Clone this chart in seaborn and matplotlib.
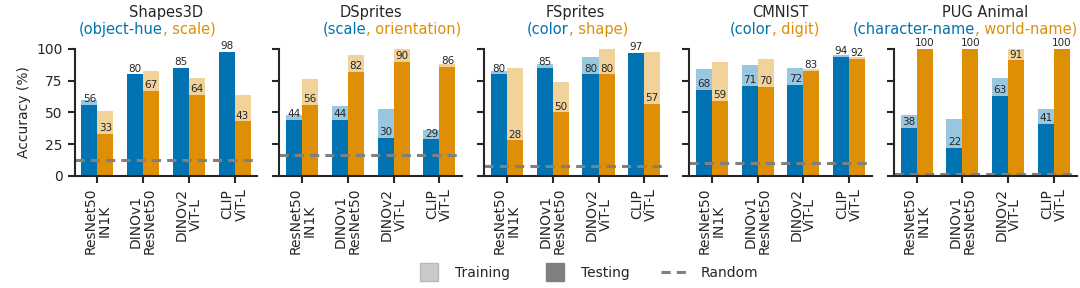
import numpy as np
import pandas as pd
import seaborn as sns
import matplotlib.pyplot as plt
from matplotlib.lines import Line2D

# models on the x axis
models = ["ResNet50\nIN1K", "DINOv1\nResNet50", "DINOv2\nViT-L", "CLIP\nViT-L"]

# dataset names and the two attributes (blue, orange)
datasets = ["Shapes3D", "DSprites", "FSprites", "CMNIST", "PUG Animal"]
attr_a = ["(object-hue", "(scale", "(color", "(color", "(character-name"]
attr_b = [", scale)", ", orientation)", ", shape)", ", digit)", ", world-name)"]

# training / testing accuracy, first attribute
train_a = [[60, 80, 85, 98], [48, 55, 53, 36], [83, 88, 94, 97], [84, 87, 85, 95], [48, 45, 77, 53]]
test_a = [[56, 80, 85, 98], [44, 44, 30, 29], [80, 85, 80, 97], [68, 71, 72, 94], [38, 22, 63, 41]]
# training / testing accuracy, second attribute
train_b = [[51, 83, 77, 64], [76, 95, 100, 88], [85, 74, 100, 98], [90, 92, 84, 94], [100, 100, 100, 100]]
test_b = [[33, 67, 64, 43], [56, 82, 90, 86], [28, 50, 80, 57], [59, 70, 83, 92], [100, 100, 91, 100]]

# chance level per dataset
random_acc = [12.5, 16.7, 7.5, 10, 1.5]

blue = "#0173B2"
orange = "#DE8F05"

sns.set_style("ticks")
plt.rcParams['font.family'] = ['DejaVu Sans']

fig, axes = plt.subplots(1, 5, figsize=(10.8, 2.88), dpi=100)
fig.subplots_adjust(left=0.069, right=0.997, top=0.83, bottom=0.389, wspace=0.12)

# horizontal nudge (px) of the coloured subtitle, as in the original
sub_shift = [-19, 21, 2, -6, -20]

title_parts = []
for i, ax in enumerate(axes):
    rows = []
    for j, m in enumerate(models):
        rows.append({"model": m, "attr": "a", "train": train_a[i][j], "test": test_a[i][j]})
        rows.append({"model": m, "attr": "b", "train": train_b[i][j], "test": test_b[i][j]})
    df = pd.DataFrame(rows)

    sns.barplot(data=df, x="model", y="train", hue="attr", palette=[blue, orange],
                saturation=1, alpha=0.4, width=0.7, ax=ax, legend=False,
                errorbar=None, linewidth=0)
    n_train = len(ax.patches)
    sns.barplot(data=df, x="model", y="test", hue="attr", palette=[blue, orange],
                saturation=1, width=0.7, ax=ax, legend=False, errorbar=None,
                linewidth=0)

    for p in ax.patches[n_train:]:
        h = p.get_height()
        ax.text(p.get_x() + p.get_width() / 2, h + 0.5, f"{h:.0f}",
                ha="center", va="bottom", fontsize=7.5)

    ax.axhline(random_acc[i], color="gray", ls="--", lw=2.2, dashes=(3, 2))
    ax.set_xlim(-0.5, 3.5)
    ax.set_ylim(0, 100)
    ax.set_yticks([0, 25, 50, 75, 100])
    ax.set_xlabel("")
    ax.set_xticks(range(len(models)))
    ax.set_xticklabels(models, rotation=90, fontsize=10, linespacing=1.0)
    ax.tick_params(axis="both", labelsize=10, width=1.5, length=5)
    if i == 0:
        ax.set_ylabel("Accuracy (%)", fontsize=10)
    else:
        ax.set_ylabel("")
        ax.set_yticklabels([])
    sns.despine(ax=ax)
    for s in ["left", "bottom"]:
        ax.spines[s].set_linewidth(1.5)

    ax.text(0.5, 1.225, datasets[i], transform=ax.transAxes, ha="center",
            va="bottom", fontsize=10.5)
    t1 = ax.text(0.5, 1.095, attr_a[i], transform=ax.transAxes, ha="right",
                 va="bottom", fontsize=10.5, color=blue)
    t2 = ax.text(0.5, 1.095, attr_b[i], transform=ax.transAxes, ha="left",
                 va="bottom", fontsize=10.5, color=orange)
    title_parts.append((ax, t1, t2, sub_shift[i]))

# center the two-colour subtitle
fig.canvas.draw()
r = fig.canvas.get_renderer()
for ax, t1, t2, dx in title_parts:
    w1 = t1.get_window_extent(r).width
    w2 = t2.get_window_extent(r).width
    ax_w = ax.get_window_extent(r).width
    shift = ((w1 - w2) / 2 + dx) / ax_w
    t1.set_x(0.5 + shift)
    t2.set_x(0.5 + shift)

handles = [Line2D([0], [0], marker="s", ls="none", markersize=12.5,
                  markerfacecolor="#cacaca", markeredgecolor="#b8b8b8"),
           Line2D([0], [0], marker="s", ls="none", markersize=12.5,
                  markerfacecolor="#808080", markeredgecolor="#808080"),
           Line2D([0], [0], color="gray", ls="--", lw=2.2, dashes=(3, 2))]
fig.legend(handles, ["Training", "Testing", "Random"], loc="center",
           bbox_to_anchor=(0.543, 0.052), ncol=3, frameon=False, fontsize=10,
           columnspacing=2.25, handlelength=2.0, handletextpad=0.85)

fig.savefig("out.png", dpi=100)
